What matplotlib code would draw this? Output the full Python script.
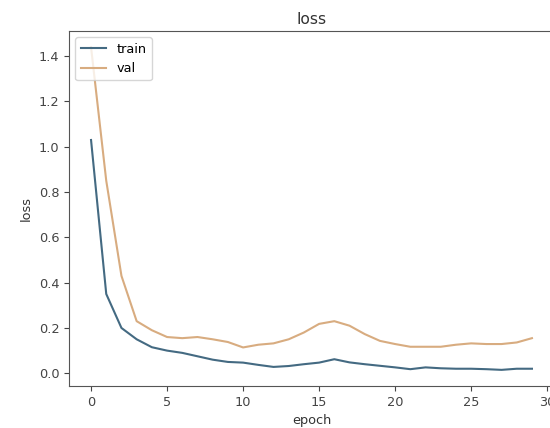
import numpy as np
import matplotlib
matplotlib.use("Agg")
import matplotlib.pyplot as plt

# loss per epoch
epochs = np.arange(30)
train_loss = [1.03, 0.35, 0.20, 0.15, 0.115, 0.10, 0.09, 0.075, 0.06, 0.05,
              0.047, 0.037, 0.028, 0.032, 0.04, 0.047, 0.062, 0.048, 0.04, 0.033,
              0.026, 0.018, 0.026, 0.022, 0.02, 0.02, 0.018, 0.015, 0.02, 0.02]
val_loss = [1.44, 0.85, 0.43, 0.23, 0.19, 0.16, 0.155, 0.16, 0.15, 0.138,
            0.114, 0.126, 0.132, 0.15, 0.18, 0.218, 0.23, 0.21, 0.173, 0.143,
            0.129, 0.117, 0.117, 0.117, 0.126, 0.132, 0.129, 0.129, 0.136, 0.155]
series_names = ["train", "val"]

plt.rcParams["font.size"] = 9.3

fig = plt.figure(figsize=(5.5, 4.28), dpi=100)
# the reference is cropped on the right, so the axes run past the edge
ax = fig.add_axes([69 / 550, 1 - 386 / 428, (554 - 69) / 550, (386 - 31) / 428])

ax.plot(epochs, train_loss, color="#446a82", lw=1.5, label=series_names[0])
ax.plot(epochs, val_loss, color="#d8ac80", lw=1.5, label=series_names[1])

ax.set_title("loss", color="#333333", pad=5)
ax.set_xlabel("epoch", color="#333333")
ax.set_ylabel("loss", color="#333333")
ax.tick_params(colors="#444444")
for s in ax.spines.values():
    s.set_color("#555555")
ax.legend(loc="upper left")

fig.savefig("out.png", dpi=100)
